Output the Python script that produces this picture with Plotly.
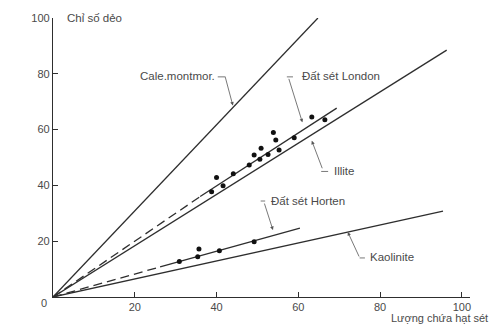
import plotly.graph_objects as go

# --- data ---
calc_x = [0, 64.8]
calc_y = [0, 100]

illite_x = [0, 96.3]
illite_y = [0, 88.5]

kaol_x = [0, 95.4]
kaol_y = [0, 30.8]

london_dash_x = [0, 36]
london_dash_y = [0, 36]
london_solid_x = [36, 69.4]
london_solid_y = [36, 67.7]

horten_dash_x = [0, 26.2]
horten_dash_y = [0, 10.8]
horten_solid_x = [26.2, 60.4]
horten_solid_y = [10.8, 24.7]

london_pts_x = [38.8, 40.0, 41.6, 44.1, 48.0, 49.2, 50.9, 50.6, 52.6, 55.3, 53.9, 54.5, 59.0, 63.3, 66.5]
london_pts_y = [37.7, 42.8, 39.9, 44.2, 47.3, 50.9, 53.3, 49.4, 51.1, 52.7, 59.0, 56.3, 57.1, 64.5, 63.5]

horten_pts_x = [30.9, 35.4, 35.7, 40.7, 49.2]
horten_pts_y = [12.7, 14.4, 17.2, 16.6, 19.8]

x_ticks = [20, 40, 60, 80, 100]
y_ticks = [20, 40, 60, 80, 100]

LINE = "#2e2e2e"
TXT = "#4a4a4a"
FONT = "Liberation Sans, Arial, sans-serif"

fig = go.Figure()

def line(xs, ys, dash="solid"):
    fig.add_trace(go.Scatter(x=xs, y=ys, mode="lines",
                             line=dict(color=LINE, width=1.3, dash=dash),
                             showlegend=False, hoverinfo="skip"))

line(calc_x, calc_y)
line(illite_x, illite_y)
line(kaol_x, kaol_y)
line(london_dash_x, london_dash_y, "9px,5px")
line(london_solid_x, london_solid_y)
line(horten_dash_x, horten_dash_y, "9px,5px")
line(horten_solid_x, horten_solid_y)

fig.add_trace(go.Scatter(x=london_pts_x, y=london_pts_y, mode="markers",
                         marker=dict(color="#111", size=5), showlegend=False))
fig.add_trace(go.Scatter(x=horten_pts_x, y=horten_pts_y, mode="markers",
                         marker=dict(color="#111", size=5), showlegend=False))

annots = []
shapes = []

def label(text, x, y, xanchor="left"):
    annots.append(dict(x=x, y=y, xref="x", yref="y", text=text, showarrow=False,
                       xanchor=xanchor, yanchor="middle",
                       font=dict(family=FONT, size=11.5, color=TXT)))

def leader(x, y, ax, ay):
    annots.append(dict(x=x, y=y, xref="x", yref="y", text="", showarrow=True,
                       ax=ax, ay=ay, arrowhead=2, arrowsize=0.9, arrowwidth=0.8,
                       arrowcolor="#555", standoff=0))

def seg(x0, y0, x1, y1):
    shapes.append(dict(type="line", xref="x", yref="y", x0=x0, y0=y0, x1=x1, y1=y1,
                       line=dict(color="#555", width=0.8)))

# Cale.montmor.
label("Cale.montmor.", 40.1, 79.2, "right")
seg(40.3, 78.9, 42.2, 78.9)
leader(44.0, 68.6, -8, -30)

# Đất sét London
label("Đất sét London", 60.3, 79.2, "left")
seg(57.2, 78.9, 58.7, 78.9)
leader(61.0, 62.6, -14, -45)

# Illite
label("Illite", 68.2, 45.0, "left")
seg(65.6, 45.0, 67.3, 45.0)
leader(63.3, 56.0, 11, 29)

# Đất sét Horten
label("Đất sét Horten", 52.8, 34.5, "left")
seg(50.8, 34.4, 51.9, 34.4)
leader(53.8, 24.0, -9, -28)

# Kaolinite
label("Kaolinite", 77.0, 14.3, "left")
seg(75.0, 14.0, 76.3, 14.0)
leader(72.1, 23.3, 12, 26)

# axis titles / origin label
annots.append(dict(x=0, y=1, xref="paper", yref="paper", text="Chỉ số dẻo", showarrow=False,
                   xanchor="left", yanchor="middle", xshift=12,
                   font=dict(family=FONT, size=11.5, color=TXT)))
annots.append(dict(x=1, y=0, xref="paper", yref="paper", text="Lượng chứa hạt sét", showarrow=False,
                   xanchor="left", yanchor="middle", xshift=-81, yshift=-21,
                   font=dict(family=FONT, size=11, color=TXT)))
annots.append(dict(x=0, y=0, xref="paper", yref="paper", text="0", showarrow=False,
                   xanchor="center", yanchor="middle", xshift=-9, yshift=-6,
                   font=dict(family=FONT, size=11, color=TXT)))

fig.update_layout(
    width=502, height=327,
    margin=dict(l=53, r=32, t=18, b=30),
    plot_bgcolor="white", paper_bgcolor="white",
    annotations=annots, shapes=shapes,
    xaxis=dict(range=[0, 102], tickvals=x_ticks, ticks="inside", ticklen=5,
               tickcolor=LINE, showline=True, linecolor=LINE, linewidth=1.2,
               showgrid=False, zeroline=False,
               tickfont=dict(family=FONT, size=11, color=TXT)),
    yaxis=dict(range=[0, 100], tickvals=y_ticks, ticks="inside", ticklen=5,
               tickcolor=LINE, showline=True, linecolor=LINE, linewidth=1.2,
               showgrid=False, zeroline=False,
               tickfont=dict(family=FONT, size=11, color=TXT)),
)

fig.write_html("out.html")
